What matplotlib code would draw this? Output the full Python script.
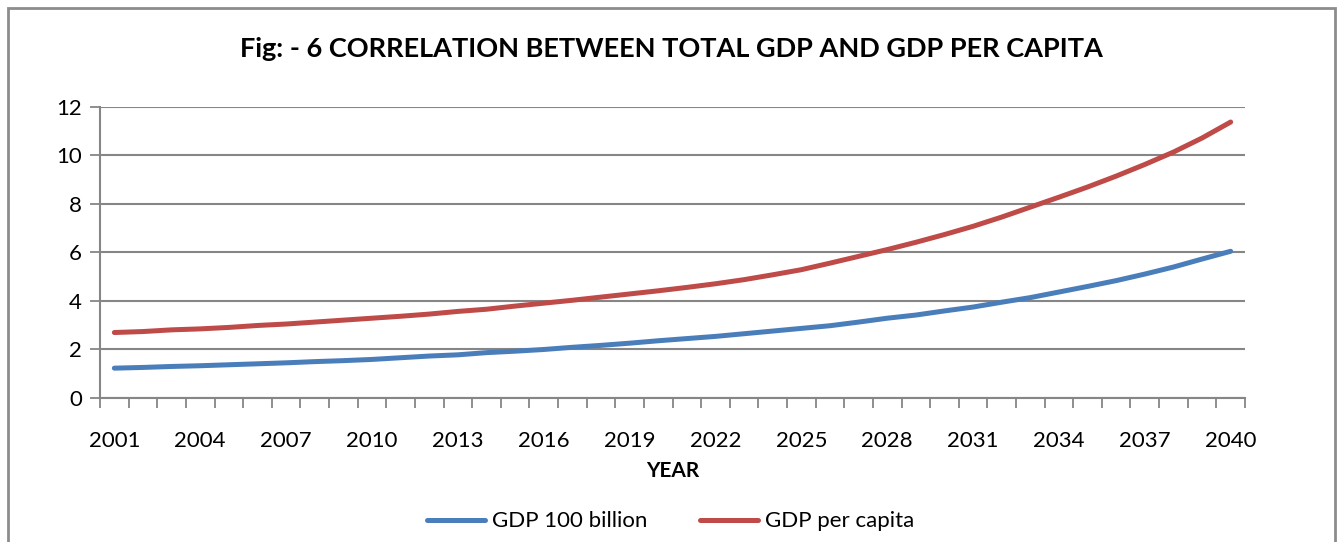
import matplotlib
matplotlib.use("Agg")
import matplotlib.pyplot as plt
from matplotlib.patches import Rectangle
from matplotlib.ticker import FixedLocator

years = list(range(2001, 2041))
gdp_100_billion = [1.23, 1.26, 1.30, 1.33, 1.37, 1.41, 1.45, 1.50, 1.54, 1.59,
                   1.66, 1.73, 1.78, 1.87, 1.93, 2.00, 2.09, 2.17, 2.26, 2.36,
                   2.45, 2.54, 2.65, 2.76, 2.87, 2.98, 3.13, 3.29, 3.42, 3.59,
                   3.75, 3.95, 4.14, 4.37, 4.60, 4.84, 5.11, 5.40, 5.73, 6.05]
gdp_per_capita = [2.70, 2.74, 2.81, 2.85, 2.91, 2.99, 3.05, 3.13, 3.21, 3.29,
                  3.37, 3.46, 3.57, 3.66, 3.79, 3.91, 4.03, 4.16, 4.29, 4.42,
                  4.56, 4.71, 4.88, 5.08, 5.29, 5.56, 5.84, 6.12, 6.42, 6.74,
                  7.08, 7.46, 7.87, 8.28, 8.70, 9.15, 9.63, 10.14, 10.72, 11.38]
xtick_labels = [str(y) for y in range(2001, 2041, 3)]
yticks = [0, 2, 4, 6, 8, 10, 12]

plt.rcParams['font.family'] = ['Lato', 'DejaVu Sans']

fig = plt.figure(figsize=(13.41, 5.42), dpi=100)
ax = fig.add_axes([0.0746, 0.2657, 0.8538, 0.5369])

grid_c = '#868686'
ax.plot(years, gdp_100_billion, color='#4A7EBB', lw=3.6, solid_capstyle='round',
        label='GDP 100 billion', zorder=3)
ax.plot(years, gdp_per_capita, color='#BE4B48', lw=3.6, solid_capstyle='round',
        label='GDP per capita', zorder=3)

ax.set_xlim(2000.5, 2040.5)
ax.set_ylim(0, 12)
ax.set_yticks(yticks)
ax.set_yticklabels([str(v) for v in yticks])
ax.set_xticks([int(s) for s in xtick_labels])
ax.set_xticklabels(xtick_labels)
ax.xaxis.set_minor_locator(FixedLocator([2000.5 + k for k in range(41)]))
ax.tick_params(axis='x', which='major', length=0, pad=24, labelsize=16)
ax.tick_params(axis='x', which='minor', length=7, width=1.3, color=grid_c, direction='out')
ax.tick_params(axis='y', which='major', length=7, width=1.3, color=grid_c, pad=6, labelsize=16)
ax.grid(axis='y', color=grid_c, lw=1.5, zorder=1)
for s in ['top', 'right']:
    ax.spines[s].set_visible(False)
for s in ['left', 'bottom']:
    ax.spines[s].set_color(grid_c)
    ax.spines[s].set_linewidth(1.5)

ax.set_xlabel('YEAR', fontsize=15, fontweight='bold', labelpad=7)
fig.text(0.5007, 0.909, 'Fig: - 6 CORRELATION BETWEEN TOTAL GDP AND GDP PER CAPITA',
         ha='center', va='center', fontsize=19.5, fontweight='bold')

fig.legend(loc='center', bbox_to_anchor=(0.5, 0.038), ncol=2, frameon=False,
           fontsize=16, handlelength=2.6, columnspacing=2.4, handletextpad=0.3)

fig.patches.append(Rectangle((8 / 1341, -0.05), 1327 / 1341, 1.05 - 8 / 542,
                             transform=fig.transFigure, fill=False,
                             edgecolor='#8c8c8c', lw=2))

fig.savefig('out.png', dpi=100)
